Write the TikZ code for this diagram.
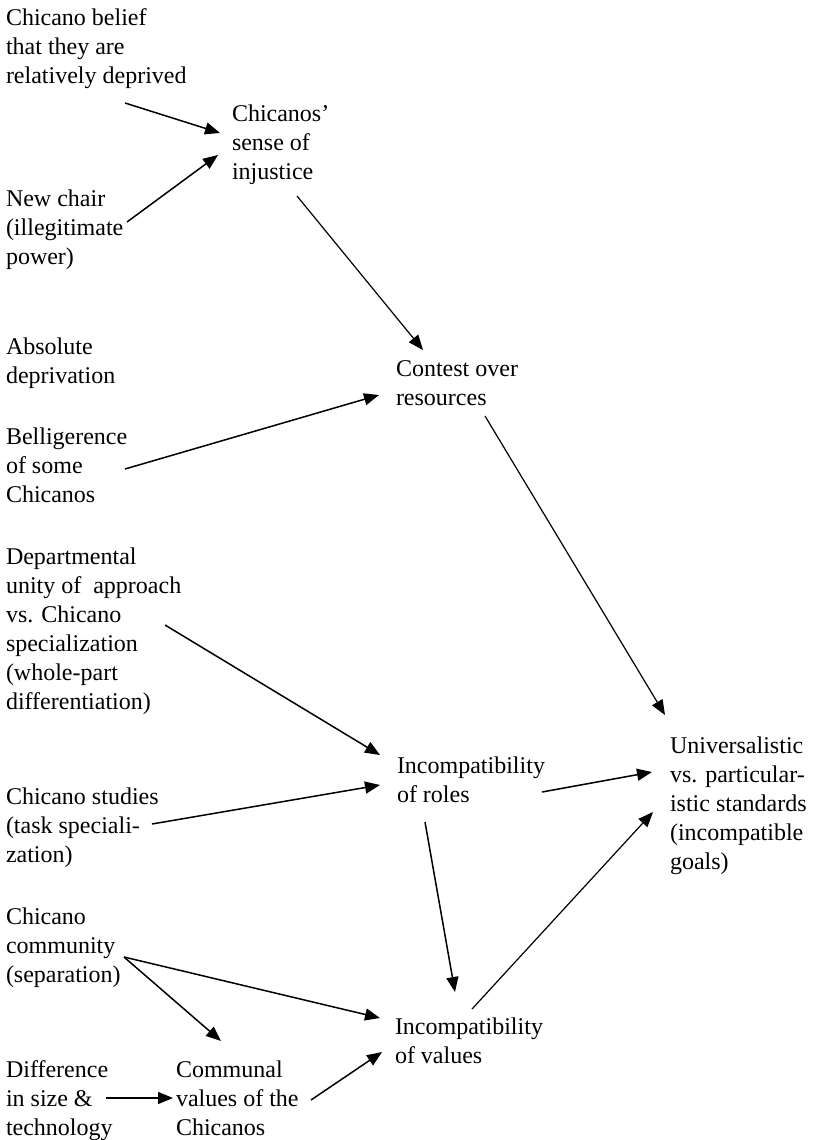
\documentclass[tikz,border=0pt]{standalone}
\usepackage{fontspec}
\setmainfont{Liberation Serif}
\usetikzlibrary{arrows.meta}
\begin{document}
\begin{tikzpicture}[x=1pt,y=-1pt,
  lbl/.style={anchor=north west, inner sep=0pt, outer sep=0pt, align=left,
              font=\fontsize{24}{29}\selectfont},
  arr/.style={line width=1.5pt, -{Triangle[length=15pt,width=12pt]}},
  thin arr/.style={arr, line width=1.2pt}]
\useasboundingbox (0,0) rectangle (815,1140);

% factor labels (top of first line = baseline - 16.5)
\node[lbl] (belief)    at (6,8.5)     {Chicano belief\\that they are\\relatively deprived};
\node[lbl] (injust)    at (232,104.5) {Chicanos’\\sense of\\injustice};
\node[lbl] (chair)     at (6,189.5)   {New chair\\(illegitimate\\power)};
\node[lbl] (absdep)    at (6,337.5)   {Absolute\\deprivation};
\node[lbl] (bellig)    at (6,427.5)   {Belligerence\\of some\\Chicanos};
\node[lbl] (contest)   at (396,360.5) {Contest over\\resources};
\node[lbl] (dept)      at (6,547.5)   {Departmental\\unity of~ approach\\vs. Chicano\\specialization\\(whole-part\\differentiation)};
\node[lbl] (studies)   at (6,787.5)   {Chicano studies\\(task speciali-\\zation)};
\node[lbl] (community) at (6,907.5)   {Chicano\\community\\(separation)};
\node[lbl] (diff)      at (6,1060.5)  {Difference\\in size \&\\technology};
\node[lbl] (communal)  at (176,1060.5){Communal\\values of the\\Chicanos};
\node[lbl] (roles)     at (397,756.5) {Incompatibility\\of roles};
\node[lbl] (univ)      at (670,736.5) {Universalistic\\vs. particular-\\istic standards\\(incompatible\\goals)};
\node[lbl] (values)    at (395,1017.5){Incompatibility\\of values};

% connector end points beside the labels
\coordinate (belief-o)    at (125,103);
\coordinate (injust-i1)   at (220,133);
\coordinate (chair-o)     at (127,222);
\coordinate (injust-i2)   at (218,155);
\coordinate (injust-o)    at (297,196);
\coordinate (contest-i1)  at (423,350);
\coordinate (bellig-o)    at (125,469);
\coordinate (contest-i2)  at (379,395);
\coordinate (contest-o)   at (485,416);
\coordinate (univ-i1)     at (665,715);
\coordinate (dept-o)      at (165,625);
\coordinate (roles-i1)    at (380,755);
\coordinate (studies-o)   at (152,824);
\coordinate (roles-i2)    at (380,785);
\coordinate (roles-o1)    at (542,792);
\coordinate (univ-i2)     at (652,772);
\coordinate (roles-o2)    at (425,822);
\coordinate (values-i1)   at (455,992);
\coordinate (values-o)    at (472,1009);
\coordinate (univ-i3)     at (653,812);
\coordinate (community-o) at (124,957);
\coordinate (values-i2)   at (380,1018);
\coordinate (communal-i1) at (221,1041);
\coordinate (diff-o)      at (106,1098);
\coordinate (communal-i2) at (173,1098);
\coordinate (communal-o)  at (311,1100);
\coordinate (values-i3)   at (382,1052);

% causal arrows
\draw[arr]      (belief-o)    -- (injust-i1);
\draw[arr]      (chair-o)     -- (injust-i2);
\draw[thin arr] (injust-o)    -- (contest-i1);
\draw[arr]      (bellig-o)    -- (contest-i2);
\draw[thin arr] (contest-o)   -- (univ-i1);
\draw[arr]      (dept-o)      -- (roles-i1);
\draw[arr]      (studies-o)   -- (roles-i2);
\draw[arr]      (roles-o1)    -- (univ-i2);
\draw[arr]      (roles-o2)    -- (values-i1);
\draw[thin arr] (values-o)    -- (univ-i3);
\draw[arr]      (community-o) -- (values-i2);
\draw[arr]      (community-o) -- (communal-i1);
\draw[arr]      (diff-o)      -- (communal-i2);
\draw[arr]      (communal-o)  -- (values-i3);
\end{tikzpicture}
\end{document}
